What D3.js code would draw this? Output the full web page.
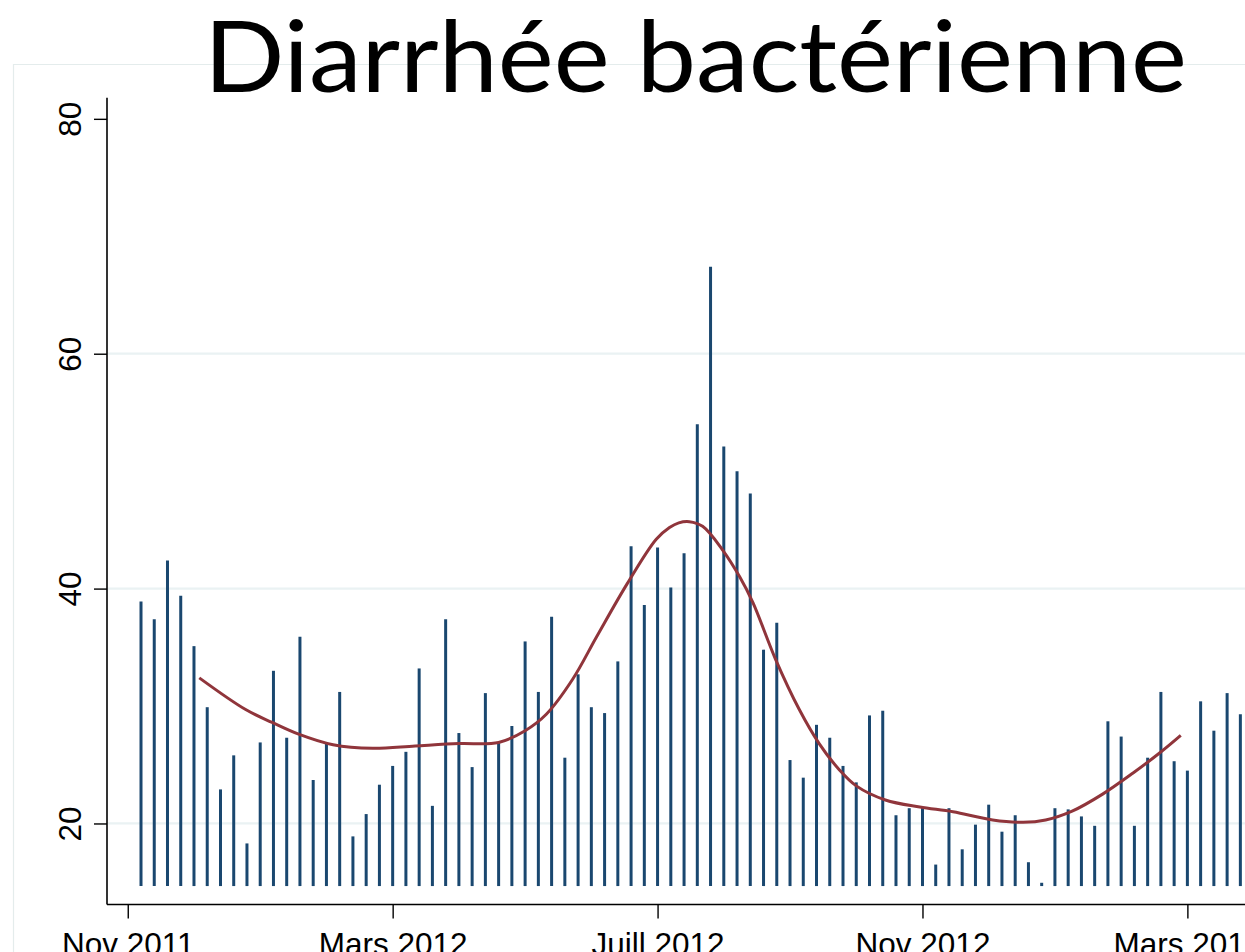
<!DOCTYPE html>
<html>
<head>
<meta charset="utf-8">
<script src="https://cdn.jsdelivr.net/npm/d3@7"></script>
<style>
  html, body { margin: 0; padding: 0; background: #ffffff; overflow: hidden; }
  svg { display: block; }
</style>
</head>
<body>
<svg id="chart" width="1245" height="952"></svg>
<script>
// ---- Data ----
const titleText = "Diarrhée bactérienne";

// weekly counts, one per period index 0..83
const cases = [
  38.9, 37.4, 42.4, 39.4, 35.1, 29.9, 22.9, 25.8, 18.3, 26.9,
  33.0, 27.3, 35.9, 23.7, 26.8, 31.2, 18.9, 20.8, 23.3, 24.9,
  26.1, 33.2, 21.5, 37.4, 27.7, 24.8, 31.1, 26.9, 28.3, 35.5,
  31.2, 37.6, 25.6, 32.7, 29.9, 29.4, 33.8, 43.6, 38.6, 43.5,
  40.1, 43.0, 54.0, 67.4, 52.1, 50.0, 48.1, 34.8, 37.1, 25.4,
  23.9, 28.4, 27.3, 24.9, 23.5, 29.2, 29.6, 20.7, 21.3, 21.4,
  16.5, 21.3, 17.8, 19.9, 21.6, 19.3, 20.7, 16.7, 14.95, 21.3,
  21.2, 20.6, 19.8, 28.7, 27.4, 19.8, 25.6, 31.2, 25.3, 24.5,
  30.4, 27.9, 31.1, 29.3
];
const spikeBase = 14.67;

// smoothed trend (period index, value)
const trendPeriod = [4.4, 7.9, 9.9, 11.9, 14.5, 17.5, 20.7, 24.0, 27.0, 29.0,
  30.6, 32.6, 34.4, 36.7, 38.9, 39.9, 40.6, 41.4, 42.4, 43.9,
  45.2, 46.2, 47.9, 49.7, 51.2, 52.7, 54.0, 56.2, 58.8, 61.3,
  64.3, 66.6, 68.3, 70.3, 72.6, 74.9, 76.9, 78.5];
const trendValue = [32.4, 29.7, 28.6, 27.6, 26.7, 26.4, 26.6, 26.8, 26.9, 27.9,
  29.3, 32.3, 35.9, 40.4, 44.2, 45.2, 45.6, 45.7, 45.3, 43.3,
  41.0, 38.8, 34.0, 29.7, 26.8, 24.6, 23.2, 22.0, 21.4, 21.0,
  20.3, 20.1, 20.3, 21.05, 22.5, 24.3, 26.0, 27.5];

// axes
const xTickPeriods = [-1, 19, 39, 59, 79];
const xTickLabels = ["Nov 2011", "Mars 2012", "Juill 2012", "Nov 2012", "Mars 2013"];
const yTicks = [20, 40, 60, 80];
const yGrid = [20, 40, 60];

// ---- Drawing ----
const svg = d3.select("#chart");
const W = 1245, H = 952;

const x = d3.scaleLinear().domain([-2.567, 83.35]).range([107, 1245]);
const y = d3.scaleLinear().domain([13.1, 81.8]).range([904.5, 97.7]);

// outer frame (light)
svg.append("path")
  .attr("d", `M13.5,952 L13.5,64.5 L1245,64.5`)
  .attr("fill", "none")
  .attr("stroke", "#e4ecec")
  .attr("stroke-width", 1.2);

// gridlines
svg.append("g").selectAll("line").data(yGrid).join("line")
  .attr("x1", 108).attr("x2", W)
  .attr("y1", d => y(d)).attr("y2", d => y(d))
  .attr("stroke", "#eaf2f3")
  .attr("stroke-width", 2.2);

// spikes
svg.append("g").selectAll("line").data(cases).join("line")
  .attr("x1", (d, i) => x(i)).attr("x2", (d, i) => x(i))
  .attr("y1", y(spikeBase)).attr("y2", d => y(d))
  .attr("stroke", "#1a476f")
  .attr("stroke-width", 3);

// trend curve
const trend = trendPeriod.map((p, i) => [p, trendValue[i]]);
svg.append("path")
  .datum(trend)
  .attr("d", d3.line().x(d => x(d[0])).y(d => y(d[1])).curve(d3.curveCatmullRom.alpha(0.5)))
  .attr("fill", "none")
  .attr("stroke", "#90353b")
  .attr("stroke-width", 3);

// y axis
const yAxis = d3.axisLeft(y).tickValues(yTicks).tickSize(13).tickFormat(d3.format("d"));
const gy = svg.append("g").attr("transform", "translate(107,0)").call(yAxis);
gy.select(".domain").attr("d", `M0,${y(81.8)}V${y(13.1)}`).attr("stroke", "#000").attr("stroke-width", 1.6);
gy.selectAll(".tick line").attr("stroke", "#000").attr("stroke-width", 1.4);
gy.selectAll(".tick text")
  .attr("x", null).attr("dy", null)
  .attr("transform", "translate(-26,0) rotate(-90)")
  .attr("text-anchor", "middle")
  .attr("y", 0)
  .style("font-family", "'Liberation Sans', Arial, sans-serif")
  .style("font-size", "31.5px")
  .attr("fill", "#000");

// x axis
const xAxis = d3.axisBottom(x).tickValues(xTickPeriods).tickSize(14)
  .tickFormat((d, i) => xTickLabels[i]);
const gx = svg.append("g").attr("transform", "translate(0,904.5)").call(xAxis);
gx.select(".domain").attr("d", `M107,0H${W}`).attr("stroke", "#000").attr("stroke-width", 1.6);
gx.selectAll(".tick line").attr("stroke", "#000").attr("stroke-width", 1.4);
gx.selectAll(".tick text")
  .attr("dy", null)
  .attr("y", 50)
  .style("font-family", "'Liberation Sans', Arial, sans-serif")
  .style("font-size", "31.5px")
  .attr("fill", "#000");

// title
svg.append("text")
  .attr("x", 204).attr("y", 92)
  .attr("textLength", 983)
  .attr("lengthAdjust", "spacingAndGlyphs")
  .style("font-family", "Lato, 'Open Sans', sans-serif")
  .style("font-size", "98px")
  .attr("fill", "#000")
  .text(titleText);
</script>
</body>
</html>
